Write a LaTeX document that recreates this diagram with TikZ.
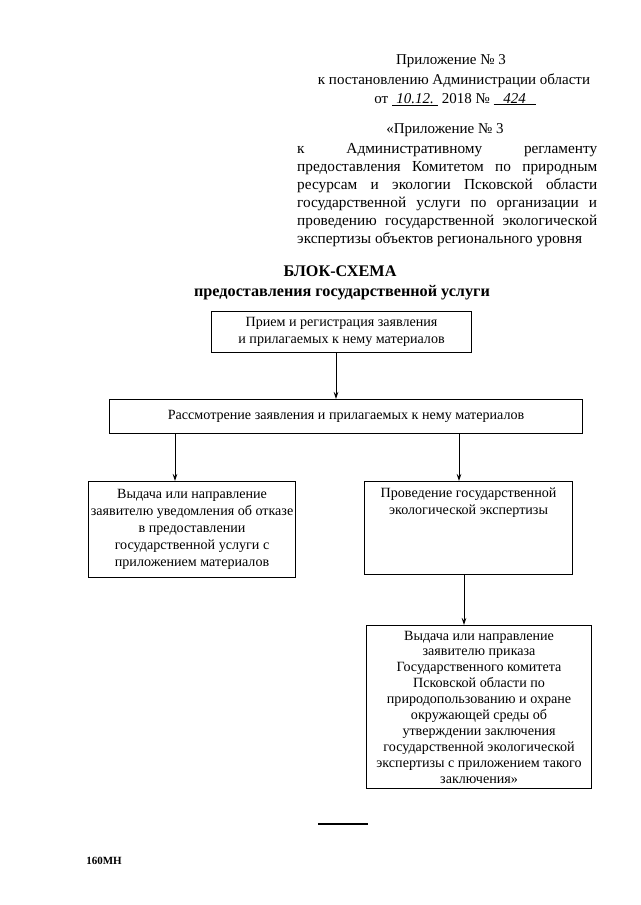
\documentclass[tikz,border=0pt]{standalone}
\usepackage{fontspec}
\setmainfont{Liberation Serif}
\newfontfamily\tnr{Liberation Serif}
\usetikzlibrary{arrows.meta}
\begin{document}
\begin{tikzpicture}[x=1pt,y=-1pt,
  hdr/.style={anchor=mid, inner sep=0pt, font=\tnr\fontsize{15}{18}\selectfont},
  par/.style={anchor=mid west, inner sep=0pt, font=\tnr\fontsize{15.3}{18}\selectfont},
  ttl/.style={anchor=mid, inner sep=0pt, font=\tnr\fontsize{16.2}{19}\selectfont\bfseries},
  box/.style={draw, line width=1.1pt, anchor=north west, inner sep=0pt},
  btxt/.style={align=center, inner sep=0pt, font=\tnr\fontsize{14.1}{17}\selectfont},
  arr/.style={-{Stealth[length=7pt,width=4.5pt]}, line width=0.8pt}]
\path[use as bounding box, fill=white] (0,0) rectangle (640,905);

% header
\node[hdr] (h1) at (451,62) {Приложение № 3};
\node[hdr] (h2) at (454,82) {к постановлению Администрации области};
\node[hdr] (h3) at (455,101) {от \underline{\makebox[46pt]{\itshape\fontsize{15}{18}\selectfont 10.12.}} 2018 № \underline{\makebox[42pt]{\itshape\fontsize{15}{18}\selectfont 424}}};
\node[hdr] (h4) at (445,131) {«Приложение № 3};
\node[par] (p1) at (297,151) {\makebox[300pt][s]{к Административному регламенту}};
\node[par] (p2) at (297,169) {\makebox[300pt][s]{предоставления Комитетом по природным}};
\node[par] (p3) at (297,187) {\makebox[300pt][s]{ресурсам и экологии Псковской области}};
\node[par] (p4) at (297,205) {\makebox[300pt][s]{государственной услуги по организации и}};
\node[par] (p5) at (297,223) {\makebox[300pt][s]{проведению государственной экологической}};
\node[par] (p6) at (297,241) {экспертизы объектов регионального уровня};

% title
\node[ttl] (t1) at (340,274) {БЛОК-СХЕМА};
\node[ttl] (t2) at (342,294) {предоставления государственной услуги};

% boxes
\node[box, minimum width=260pt, minimum height=41pt] (b1) at (211,311) {};
\node[btxt] (b1t) at (b1.center) {Прием и регистрация заявления\\и прилагаемых к нему материалов};

\node[box, minimum width=473pt, minimum height=34pt] (b2) at (109,399) {};
\node[btxt] (b2t) at (b2.center) {Рассмотрение заявления и прилагаемых к нему материалов};

\node[box, minimum width=207pt, minimum height=96pt] (b3) at (88,481) {};
\node[btxt] (b3t) at (b3.center) {Выдача или направление\\заявителю уведомления об отказе\\в предоставлении\\государственной услуги с\\приложением материалов};

\node[box, minimum width=208pt, minimum height=93pt] (b4) at (364,481) {};
\node[btxt, anchor=north] (b4t) at ([yshift=-7pt]b4.north) {Проведение государственной\\экологической экспертизы};

\node[box, minimum width=225pt, minimum height=163pt] (b5) at (366,625) {};
\node[btxt, font=\tnr\fontsize{14.1}{15.9}\selectfont] (b5t) at (b5.center) {Выдача или направление\\заявителю приказа\\Государственного комитета\\Псковской области по\\природопользованию и охране\\окружающей среды об\\утверждении заключения\\государственной экологической\\экспертизы с приложением такого\\заключения»};

% connector columns
\coordinate (c1) at (336,0);
\coordinate (c2) at (175,0);
\coordinate (c3) at (459,0);
\coordinate (c4) at (464,0);
\draw[arr] (b1.south -| c1) -- (b2.north -| c1);
\draw[arr] (b2.south -| c2) -- (b3.north -| c2);
\draw[arr] (b2.south -| c3) -- (b4.north -| c3);
\draw[arr] (b4.south -| c4) -- (b5.north -| c4);

% footer
\coordinate (f1) at (318,824);
\coordinate (f2) at (368,824);
\draw[line width=1.2pt] (f1) -- (f2);
\node[anchor=mid, inner sep=0pt, font=\tnr\fontsize{11}{13}\selectfont\bfseries] (ft) at (104,862) {160МН};
\end{tikzpicture}
\end{document}
